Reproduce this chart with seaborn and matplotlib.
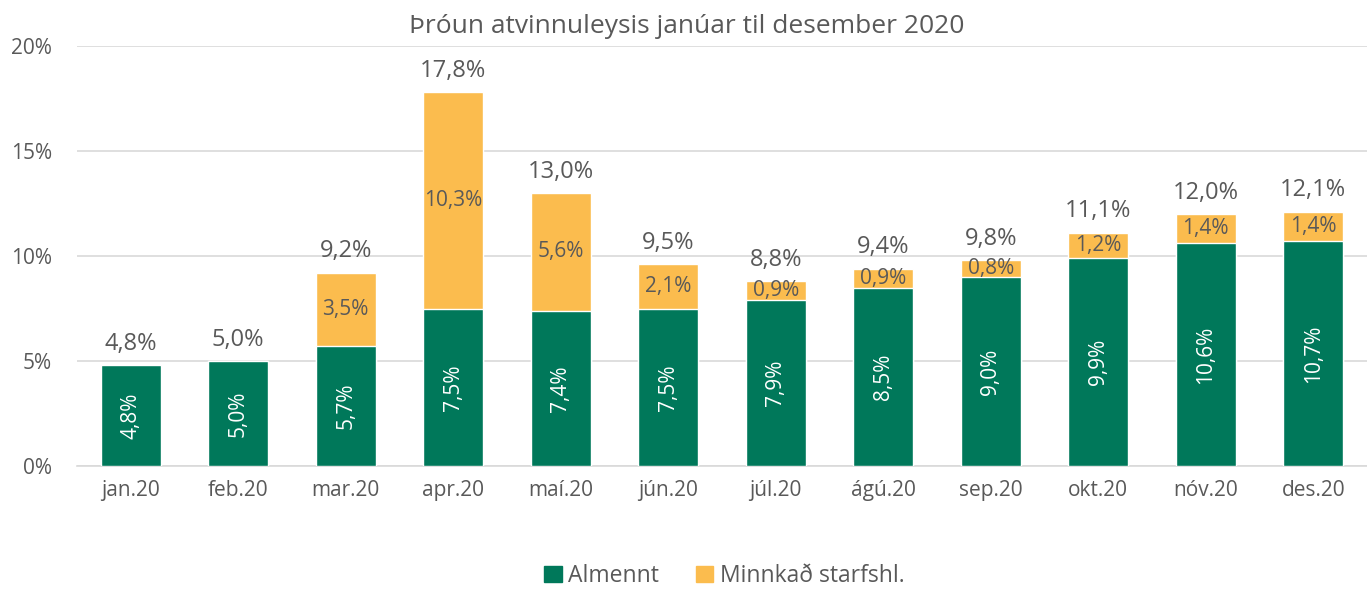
import matplotlib
matplotlib.use('Agg')
import matplotlib.pyplot as plt
import seaborn as sns
import pandas as pd
from matplotlib.patches import Patch

# Gögn lesin af myndinni
manudir = ['jan.20', 'feb.20', 'mar.20', 'apr.20', 'maí.20', 'jún.20',
           'júl.20', 'ágú.20', 'sep.20', 'okt.20', 'nóv.20', 'des.20']
almennt = [4.8, 5.0, 5.7, 7.5, 7.4, 7.5, 7.9, 8.5, 9.0, 9.9, 10.6, 10.7]
minnkad = [0.0, 0.0, 3.5, 10.3, 5.6, 2.1, 0.9, 0.9, 0.8, 1.2, 1.4, 1.4]
samtals = [4.8, 5.0, 9.2, 17.8, 13.0, 9.5, 8.8, 9.4, 9.8, 11.1, 12.0, 12.1]

GRAENN = '#00785A'
GULUR = '#FBBC4E'
GRAR = '#595959'

sns.set_style('white')
plt.rcParams['font.family'] = ['Open Sans', 'DejaVu Sans']

df = pd.DataFrame({'manudur': manudir, 'almennt': almennt, 'minnkad': minnkad})
df['efst'] = df['almennt'] + df['minnkad']

fig = plt.figure(figsize=(13.67, 5.92), dpi=100)
ax = fig.add_axes([0.0563, 0.2128, 0.9437, 0.7095])

sns.barplot(data=df, x='manudur', y='efst', color=GULUR, width=0.56,
            saturation=1, ax=ax, zorder=2)
sns.barplot(data=df, x='manudur', y='almennt', color=GRAENN, width=0.56,
            saturation=1, ax=ax, zorder=3)

ax.set_ylim(0, 20)
ax.set_yticks([0, 5, 10, 15, 20])
ax.set_yticklabels([f'{v}%' for v in [0, 5, 10, 15, 20]])
ax.yaxis.grid(True, color='#d9d9d9', linewidth=1.2, zorder=0)
ax.set_axisbelow(True)
for s in ['top', 'right', 'left']:
    ax.spines[s].set_visible(False)
ax.spines['bottom'].set_color('#d9d9d9')
ax.spines['bottom'].set_linewidth(1.2)
ax.tick_params(axis='both', length=0, labelsize=15, labelcolor=GRAR)
ax.tick_params(axis='x', pad=10)
ax.tick_params(axis='y', pad=18)
ax.set_xlabel('')
ax.set_ylabel('')

def fmt(v):
    return f'{v:.1f}%'.replace('.', ',')

for i in range(len(manudir)):
    ax.text(i, almennt[i] / 2, fmt(almennt[i]), rotation=90, ha='center',
            va='center', color='white', fontsize=15, zorder=5)
    if minnkad[i] > 0:
        ax.text(i, almennt[i] + minnkad[i] / 2, fmt(minnkad[i]), ha='center',
                va='center', color=GRAR, fontsize=15, zorder=5)
    ax.text(i, almennt[i] + minnkad[i] + 0.45, fmt(samtals[i]), ha='center',
            va='bottom', color=GRAR, fontsize=17, zorder=5)

ax.set_title('Þróun atvinnuleysis janúar til desember 2020', fontsize=19,
             color=GRAR, pad=9, x=0.473)

handles = [Patch(color=GRAENN, label='Almennt'),
           Patch(color=GULUR, label='Minnkað starfshl.')]
fig.legend(handles=handles, loc='lower center', bbox_to_anchor=(0.53, -0.028),
           ncol=2, frameon=False, fontsize=16.5, labelcolor=GRAR,
           handlelength=0.75, handleheight=0.75, handletextpad=0.3,
           columnspacing=1.6)

fig.savefig('out.png', dpi=100)
